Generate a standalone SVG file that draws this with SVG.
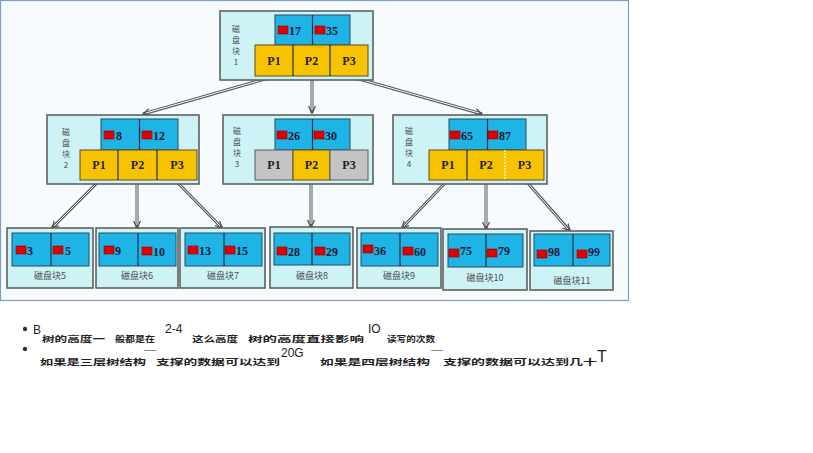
<svg xmlns="http://www.w3.org/2000/svg" width="813" height="453" viewBox="0 0 813 453">
<style>
.outer{fill:#cdf3f6;stroke:#606060;stroke-width:1.6}
.key{fill:#1fb4e6;stroke:#2a4a5a;stroke-width:1}
.ptr{fill:#f7c300;stroke:#5a4a20;stroke-width:1}
.gray{fill:#c4c4c4;stroke:#5a5a5a;stroke-width:1}
.div{stroke:#1a3040;stroke-width:1.2}
.red{fill:#e00000;stroke:#900000;stroke-width:0.6}
.num{font-family:"Liberation Serif",serif;font-weight:bold;font-size:12px;fill:#101838}
.p{font-family:"Liberation Serif",serif;font-weight:bold;font-size:12px;fill:#202020;text-anchor:middle}
.cvl{font-family:"Noto Sans CJK SC","Liberation Sans",sans-serif;font-size:9px;fill:#4a4a4a;text-anchor:middle}
.vl{font-family:"Noto Sans CJK SC","Liberation Sans",sans-serif;font-size:8px;fill:#4a4a4a;text-anchor:middle}
.c1{fill:none;stroke:#555;stroke-width:3}
.c2{fill:none;stroke:#fff;stroke-width:1}
.sm{font-family:"Noto Sans CJK SC",sans-serif;font-size:8.5px;font-weight:bold;fill:#222}
.bg{font-family:"Liberation Sans",sans-serif;font-size:12px;fill:#222}
.dash{font-family:"Liberation Sans",sans-serif;font-size:8px;fill:#222}
.bul{fill:#333}
</style>
<defs>
<marker id="ah" markerUnits="userSpaceOnUse" markerWidth="10" markerHeight="10" refX="7" refY="4" orient="auto">
<path d="M0,0.5 L7,4 L0,7.5" fill="none" stroke="#555" stroke-width="1.3"/>
</marker>
</defs>
<rect x="0.5" y="0.5" width="628" height="300" fill="#f8fbfd" stroke="#7b9cc4" stroke-width="1.2"/>

<g id="connectors">
<line class="c1" x1="272" y1="77" x2="143" y2="114" marker-end="url(#ah)"/><line class="c2" x1="272" y1="77" x2="146" y2="113"/>
<line class="c1" x1="312" y1="77" x2="312" y2="113" marker-end="url(#ah)"/><line class="c2" x1="312" y1="77" x2="312" y2="110"/>
<line class="c1" x1="352" y1="77" x2="482" y2="114" marker-end="url(#ah)"/><line class="c2" x1="352" y1="77" x2="479" y2="113"/>
<line class="c1" x1="99" y1="181" x2="52" y2="228" marker-end="url(#ah)"/><line class="c2" x1="99" y1="181" x2="54" y2="226"/>
<line class="c1" x1="137" y1="181" x2="137" y2="228" marker-end="url(#ah)"/><line class="c2" x1="137" y1="181" x2="137" y2="225"/>
<line class="c1" x1="176" y1="181" x2="222" y2="228" marker-end="url(#ah)"/><line class="c2" x1="176" y1="181" x2="220" y2="226"/>
<line class="c1" x1="311" y1="181" x2="311" y2="227" marker-end="url(#ah)"/><line class="c2" x1="311" y1="181" x2="311" y2="224"/>
<line class="c1" x1="447" y1="181" x2="402" y2="228" marker-end="url(#ah)"/><line class="c2" x1="447" y1="181" x2="404" y2="226"/>
<line class="c1" x1="486" y1="181" x2="486" y2="229" marker-end="url(#ah)"/><line class="c2" x1="486" y1="181" x2="486" y2="226"/>
<line class="c1" x1="526" y1="181" x2="570" y2="231" marker-end="url(#ah)"/><line class="c2" x1="526" y1="181" x2="568" y2="229"/>
</g>

<g id="block1">
<rect class="outer" x="220" y="11" width="153" height="69"/>
<rect class="key" x="275" y="15" width="75" height="30"/><line class="div" x1="312.5" y1="15" x2="312.5" y2="45"/>
<rect class="red" x="278" y="26" width="10" height="8"/><text class="num" x="289" y="35">17</text>
<rect class="red" x="315" y="26" width="10" height="8"/><text class="num" x="326" y="35">35</text>
<rect class="ptr" x="255" y="45" width="113" height="31"/>
<line class="div" x1="293" y1="45" x2="293" y2="76"/><line class="div" x1="330" y1="45" x2="330" y2="76"/>
<text class="p" x="274" y="65">P1</text><text class="p" x="311.5" y="65">P2</text><text class="p" x="349" y="65">P3</text>
<text class="vl" x="236" y="32">磁</text><text class="vl" x="236" y="43">盘</text><text class="vl" x="236" y="54">块</text><text class="vl" x="236" y="65">1</text>
</g>

<g id="block2">
<rect class="outer" x="47" y="115" width="152" height="69"/>
<rect class="key" x="101" y="119" width="77" height="31"/><line class="div" x1="139.5" y1="119" x2="139.5" y2="150"/>
<rect class="red" x="104" y="131" width="10" height="8"/><text class="num" x="116" y="140">8</text>
<rect class="red" x="142" y="131" width="10" height="8"/><text class="num" x="153" y="140">12</text>
<rect class="ptr" x="80" y="150" width="117" height="30"/>
<line class="div" x1="118" y1="150" x2="118" y2="180"/><line class="div" x1="157" y1="150" x2="157" y2="180"/>
<text class="p" x="99" y="169">P1</text><text class="p" x="137.5" y="169">P2</text><text class="p" x="177" y="169">P3</text>
<text class="vl" x="66" y="135">磁</text><text class="vl" x="66" y="146">盘</text><text class="vl" x="66" y="157">块</text><text class="vl" x="66" y="168">2</text>
</g>

<g id="block3">
<rect class="outer" x="223" y="115" width="150" height="69"/>
<rect class="key" x="275" y="119" width="75" height="31"/><line class="div" x1="312.5" y1="119" x2="312.5" y2="150"/>
<rect class="red" x="277" y="131" width="10" height="8"/><text class="num" x="288" y="140">26</text>
<rect class="red" x="314" y="131" width="10" height="8"/><text class="num" x="325" y="140">30</text>
<rect class="gray" x="255" y="150" width="38" height="30"/>
<rect class="ptr" x="293" y="150" width="37" height="30"/>
<rect class="gray" x="330" y="150" width="38" height="30"/>
<text class="p" x="274" y="169" fill="#555">P1</text><text class="p" x="311.5" y="169">P2</text><text class="p" x="349" y="169" fill="#555">P3</text>
<text class="vl" x="237" y="134">磁</text><text class="vl" x="237" y="145">盘</text><text class="vl" x="237" y="156">块</text><text class="vl" x="237" y="167">3</text>
</g>

<g id="block4">
<rect class="outer" x="393" y="115" width="154" height="69"/>
<rect class="key" x="449" y="119" width="77" height="31"/><line class="div" x1="487.5" y1="119" x2="487.5" y2="150"/>
<rect class="red" x="450" y="131" width="10" height="8"/><text class="num" x="461" y="140">65</text>
<rect class="red" x="488" y="131" width="10" height="8"/><text class="num" x="499" y="140">87</text>
<rect class="ptr" x="429" y="150" width="115" height="30"/>
<line class="div" x1="467" y1="150" x2="467" y2="180"/><line x1="505" y1="150" x2="505" y2="180" stroke="#fff" stroke-width="1.2" stroke-dasharray="2,1"/>
<text class="p" x="448" y="169">P1</text><text class="p" x="486" y="169">P2</text><text class="p" x="524.5" y="169">P3</text>
<text class="vl" x="409" y="134">磁</text><text class="vl" x="409" y="145">盘</text><text class="vl" x="409" y="156">块</text><text class="vl" x="409" y="167">4</text>
</g>

<g id="block5">
<rect class="outer" x="7" y="228" width="86" height="60"/>
<rect class="key" x="12" y="233" width="77" height="33"/><line class="div" x1="51" y1="233" x2="51" y2="266"/>
<rect class="red" x="16" y="246" width="10" height="8"/><text class="num" x="27" y="255">3</text>
<rect class="red" x="53" y="246" width="10" height="8"/><text class="num" x="65" y="255">5</text>
<text class="cvl" x="50" y="279">磁盘块5</text>
</g>

<g id="block6">
<rect class="outer" x="96" y="228" width="82" height="60"/>
<rect class="key" x="99" y="233" width="77" height="33"/><line class="div" x1="138" y1="233" x2="138" y2="266"/>
<rect class="red" x="104" y="246" width="10" height="8"/><text class="num" x="115" y="255">9</text>
<rect class="red" x="142" y="247" width="10" height="8"/><text class="num" x="153" y="256">10</text>
<text class="cvl" x="137" y="279">磁盘块6</text>
</g>

<g id="block7">
<rect class="outer" x="180" y="228" width="85" height="60"/>
<rect class="key" x="185" y="233" width="77" height="33"/><line class="div" x1="224" y1="233" x2="224" y2="266"/>
<rect class="red" x="188" y="246" width="10" height="8"/><text class="num" x="199" y="255">13</text>
<rect class="red" x="225" y="246" width="10" height="8"/><text class="num" x="236" y="255">15</text>
<text class="cvl" x="223" y="279">磁盘块7</text>
</g>

<g id="block8">
<rect class="outer" x="270" y="227" width="83" height="61"/>
<rect class="key" x="274" y="233" width="76" height="32"/><line class="div" x1="312" y1="233" x2="312" y2="265"/>
<rect class="red" x="277" y="247" width="10" height="8"/><text class="num" x="288" y="256">28</text>
<rect class="red" x="315" y="247" width="10" height="8"/><text class="num" x="326" y="256">29</text>
<text class="cvl" x="312" y="279">磁盘块8</text>
</g>

<g id="block9">
<rect class="outer" x="357" y="228" width="84" height="60"/>
<rect class="key" x="361" y="233" width="77" height="33"/><line class="div" x1="400" y1="233" x2="400" y2="266"/>
<rect class="red" x="363" y="245" width="10" height="8"/><text class="num" x="374" y="255">36</text>
<rect class="red" x="403" y="247" width="10" height="8"/><text class="num" x="414" y="256">60</text>
<text class="cvl" x="399" y="279">磁盘块9</text>
</g>

<g id="block10">
<rect class="outer" x="443" y="229" width="84" height="61"/>
<rect class="key" x="448" y="234" width="75" height="33"/><line class="div" x1="486" y1="234" x2="486" y2="267"/>
<rect class="red" x="449" y="249" width="10" height="8"/><text class="num" x="460" y="255">75</text>
<rect class="red" x="487" y="249" width="10" height="8"/><text class="num" x="498" y="255">79</text>
<text class="cvl" x="485" y="281">磁盘块10</text>
</g>

<g id="block11">
<rect class="outer" x="530" y="231" width="83" height="59"/>
<rect class="key" x="534" y="234" width="76" height="32"/><line class="div" x1="573" y1="234" x2="573" y2="266"/>
<rect class="red" x="537" y="250" width="10" height="8"/><text class="num" x="548" y="256">98</text>
<rect class="red" x="577" y="250" width="10" height="8"/><text class="num" x="588" y="256">99</text>
<text class="cvl" x="572" y="284">磁盘块11</text>
</g>

<g id="notes">
<circle class="bul" cx="25" cy="329" r="2.2"/>
<text class="bg" x="33" y="334">B</text>
<text class="sm" x="42" y="342" textLength="63" lengthAdjust="spacingAndGlyphs">树的高度一</text>
<text class="sm" x="115" y="342" textLength="40" lengthAdjust="spacingAndGlyphs">般都是在</text>
<text class="bg" x="165" y="333">2-4</text>
<text class="sm" x="192" y="342" textLength="46" lengthAdjust="spacingAndGlyphs">这么高度</text>
<text class="sm" x="248" y="342" textLength="116" lengthAdjust="spacingAndGlyphs">树的高度直接影响</text>
<text class="bg" x="368" y="333">IO</text>
<text class="sm" x="387" y="342" textLength="48" lengthAdjust="spacingAndGlyphs">读写的次数</text>
<circle class="bul" cx="25" cy="349" r="2.2"/>
<text class="sm" x="40" y="365" textLength="106" lengthAdjust="spacingAndGlyphs">如果是三层树结构</text>
<text class="dash" x="144" y="352" textLength="12" lengthAdjust="spacingAndGlyphs">—</text>
<text class="sm" x="156" y="365" textLength="124" lengthAdjust="spacingAndGlyphs">支撑的数据可以达到</text>
<text class="bg" x="281" y="357">20G</text>
<text class="sm" x="320" y="365" textLength="110" lengthAdjust="spacingAndGlyphs">如果是四层树结构</text>
<text class="dash" x="431" y="352" textLength="12" lengthAdjust="spacingAndGlyphs">—</text>
<text class="sm" x="443" y="365" textLength="154" lengthAdjust="spacingAndGlyphs">支撑的数据可以达到几十</text>
<text class="bg" x="597" y="362" style="font-size:16px">T</text>
</g>
</svg>
